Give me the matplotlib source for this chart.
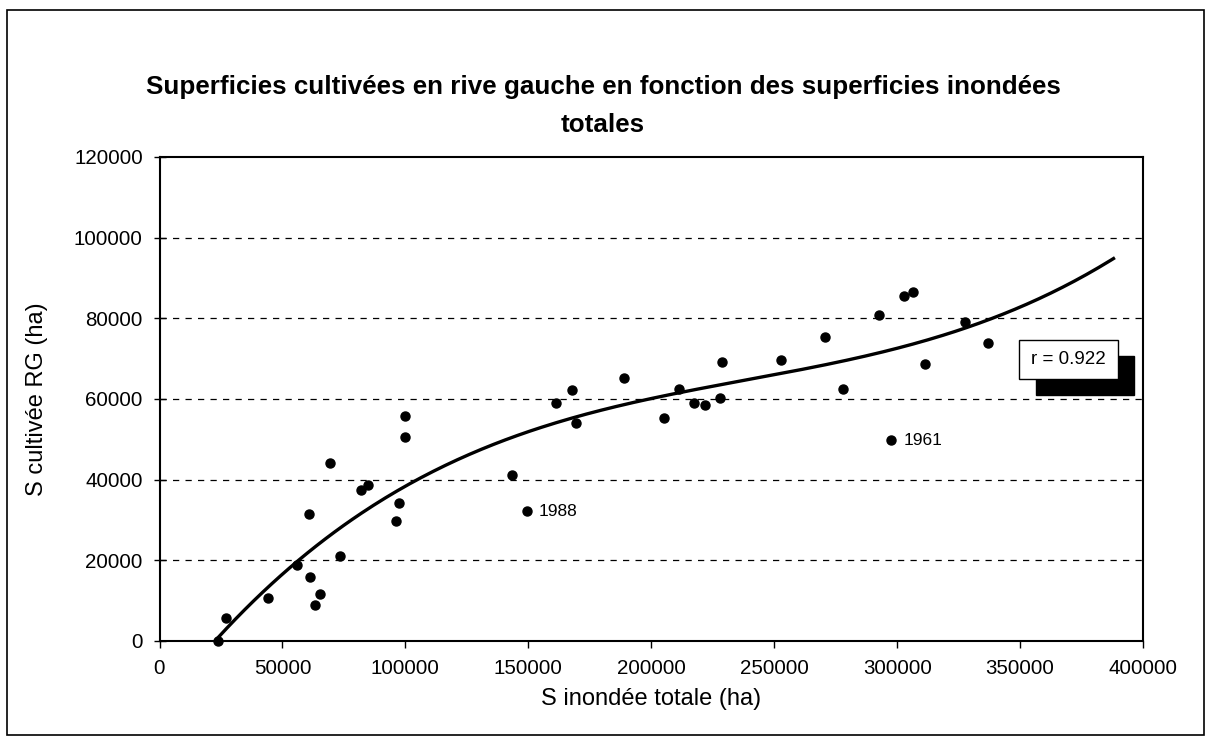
import numpy as np
import matplotlib
matplotlib.use("Agg")
import matplotlib.pyplot as plt
from matplotlib.patches import Rectangle

plt.rcParams['font.family'] = ['Liberation Sans', 'DejaVu Sans']

# Data (S inondée totale, S cultivée RG), in ha
s_inondee = [23700, 27100, 44100, 56000, 60600, 61300, 63300, 65300, 69500, 73500,
             82100, 84800, 96100, 97300, 99700, 99700, 143200, 149300, 161100, 167600,
             169300, 188900, 205000, 211100, 217400, 221900, 228000, 228700, 252800,
             270800, 278000, 292600, 297700, 302700, 306500, 311500, 327600, 337000]
s_cultivee = [0, 5800, 10600, 18800, 31400, 15900, 8900, 11600, 44200, 21100,
              37400, 38700, 29800, 34200, 55800, 50500, 41100, 32200, 58900, 62200,
              54100, 65100, 55200, 62400, 59100, 58600, 60200, 69100, 69600,
              75400, 62400, 80800, 49800, 85600, 86600, 68800, 79100, 74000]

labels = {"1988": (149300, 32200), "1961": (297700, 49800)}
r_text = "r = 0.922"
x_ticks = [0, 50000, 100000, 150000, 200000, 250000, 300000, 350000, 400000]
y_ticks = [0, 20000, 40000, 60000, 80000, 100000, 120000]
trend_end = 388000

W, H = 1206, 739
fig = plt.figure(figsize=(W / 100, H / 100), dpi=100)
ax = fig.add_axes([159.5 / W, 1 - 641 / H, (1143 - 159.5) / W, (641 - 157) / H])

x = np.array(s_inondee, dtype=float)
y = np.array(s_cultivee, dtype=float)

# gridlines
for yt in y_ticks[1:-1]:
    ax.axhline(yt, color='black', lw=0.9, ls=(0, (5, 5)), zorder=1)

# cubic trend line (as in the spreadsheet polynomial trendline)
coef = np.polyfit(x, y, 3)
xs = np.linspace(x.min(), trend_end, 300)
ax.plot(xs, np.polyval(coef, xs), color='black', lw=2.4, zorder=2)

ax.plot(x, y, 'o', color='black', markersize=6.5, zorder=3, clip_on=False)

for txt, (lx, ly) in labels.items():
    ax.annotate(txt, (lx, ly), xytext=(9, 0), textcoords='offset points',
                va='center', ha='left', fontsize=12.5)

ax.set_xlim(0, 400000)
ax.set_ylim(0, 120000)
ax.set_xticks(x_ticks)
ax.set_yticks(y_ticks)
ax.set_xticklabels([str(v) for v in x_ticks], fontsize=14.8)
ax.set_yticklabels([str(v) for v in y_ticks], fontsize=14.8)
ax.tick_params(axis='x', direction='out', length=5, width=1, pad=8)
ax.tick_params(axis='y', direction='inout', length=8, width=1, pad=8)
for s in ax.spines.values():
    s.set_linewidth(1.5)
    s.set_color('black')

ax.set_xlabel("S inondée totale (ha)", fontsize=17, labelpad=7)
ax.set_ylabel("S cultivée RG (ha)", fontsize=17, labelpad=19)

# r box with black shadow (figure pixel coordinates)
def px_rect(x0, y0, x1, y1, **kw):
    return Rectangle((x0 / W, 1 - y1 / H), (x1 - x0) / W, (y1 - y0) / H,
                     transform=fig.transFigure, **kw)

fig.patches.append(px_rect(1036, 356, 1134, 395, facecolor='black', edgecolor='black', zorder=5))
fig.patches.append(px_rect(1019, 340, 1118, 379, facecolor='white', edgecolor='black', lw=1.0, zorder=6))
fig.text((1019 + 1118) / 2 / W, 1 - 359.5 / H, r_text, ha='center', va='center',
         fontsize=13.5, zorder=7)

# title
fig.text(0.5, 1 - 87 / H, "Superficies cultivées en rive gauche en fonction des superficies inondées",
         ha='center', va='center', fontsize=18.7, fontweight='bold')
fig.text(0.5, 1 - 125 / H, "totales", ha='center', va='center', fontsize=18.7, fontweight='bold')

# chart area border
fig.patches.append(px_rect(7, 10, 1204, 735, facecolor='none', edgecolor='black', lw=1.2, zorder=0))

fig.savefig("out.png", dpi=100)
